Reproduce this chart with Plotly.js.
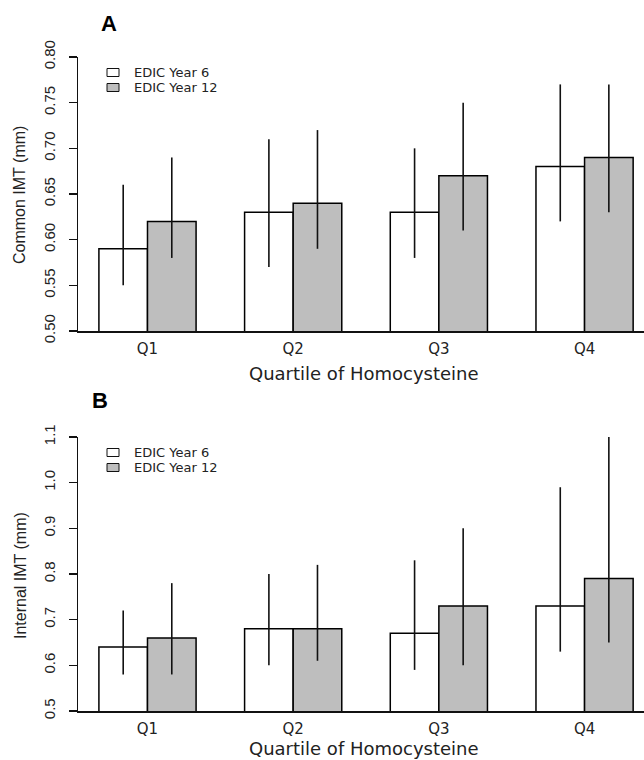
<!DOCTYPE html>
<html>
<head>
<meta charset="utf-8">
<script src="https://cdn.plot.ly/plotly-3.0.1.min.js"></script>
<style>html,body{margin:0;padding:0;background:#fff;}#chart{width:644px;height:760px;}</style>
</head>
<body>
<div id="chart"></div>
<script>
const quartiles = ['Q1', 'Q2', 'Q3', 'Q4'];
const seriesNames = ['EDIC Year 6', 'EDIC Year 12'];
const panelLabels = ['A', 'B'];
const xTitle = 'Quartile of Homocysteine';
const yTitles = ['Common IMT (mm)', 'Internal IMT (mm)'];

const commonY6   = [0.59, 0.63, 0.63, 0.68];
const commonY6Lo = [0.55, 0.57, 0.58, 0.62];
const commonY6Hi = [0.66, 0.71, 0.70, 0.77];
const commonY12   = [0.62, 0.64, 0.67, 0.69];
const commonY12Lo = [0.58, 0.59, 0.61, 0.63];
const commonY12Hi = [0.69, 0.72, 0.75, 0.77];

const internalY6   = [0.64, 0.68, 0.67, 0.73];
const internalY6Lo = [0.58, 0.60, 0.59, 0.63];
const internalY6Hi = [0.72, 0.80, 0.83, 0.99];
const internalY12   = [0.66, 0.68, 0.73, 0.79];
const internalY12Lo = [0.58, 0.61, 0.60, 0.65];
const internalY12Hi = [0.78, 0.82, 0.90, 1.10];

const commonTicks = [0.50, 0.55, 0.60, 0.65, 0.70, 0.75, 0.80];
const internalTicks = [0.5, 0.6, 0.7, 0.8, 0.9, 1.0, 1.1];

const W = 644, H = 760, ML = 78, MR = 0;
const px = x => (x - ML) / (W - ML - MR);
const py = y => 1 - y / H;

const fills = ['#ffffff', '#bebebe'];

function barTrace(name, y, lo, hi, fill, xa, ya) {
  return {
    type: 'bar', name: name, x: quartiles, y: y,
    xaxis: xa, yaxis: ya, showlegend: false,
    marker: {color: fill, line: {color: '#000', width: 1.5}},
    error_y: {
      type: 'data', symmetric: false,
      array: hi.map((v, i) => v - y[i]),
      arrayminus: lo.map((v, i) => y[i] - v),
      width: 0, thickness: 1.6, color: '#111'
    },
    hoverinfo: 'skip'
  };
}

const data = [
  barTrace(seriesNames[0], commonY6, commonY6Lo, commonY6Hi, fills[0], 'x', 'y'),
  barTrace(seriesNames[1], commonY12, commonY12Lo, commonY12Hi, fills[1], 'x', 'y'),
  barTrace(seriesNames[0], internalY6, internalY6Lo, internalY6Hi, fills[0], 'x2', 'y2'),
  barTrace(seriesNames[1], internalY12, internalY12Lo, internalY12Hi, fills[1], 'x2', 'y2')
];

const tickFontY = {family: 'Liberation Sans, Arial, sans-serif', size: 15, color: '#222'};
const tickFontX = {family: 'DejaVu Sans, sans-serif', size: 15, color: '#222'};

function xAxis(anchor) {
  return {
    domain: [0, 1], anchor: anchor, type: 'category',
    range: [-0.477, 3.408], showline: true, linecolor: '#111', linewidth: 1.5,
    ticks: '', showgrid: false, zeroline: false, tickfont: tickFontX,
    ticklabelstandoff: 3, fixedrange: true
  };
}
function yAxis(anchor, domain, range, ticks, fmt) {
  return {
    domain: domain, anchor: anchor, range: range,
    tickmode: 'array', tickvals: ticks, ticktext: ticks.map(v => v.toFixed(fmt)),
    tickangle: -90, ticks: 'outside', ticklen: 8, tickwidth: 1.5, tickcolor: '#111',
    showline: true, linecolor: '#111', linewidth: 1.5, showgrid: false, zeroline: false,
    tickfont: tickFontY, ticklabelstandoff: 8, fixedrange: true
  };
}

const annotations = [];
const shapes = [];
const panelTop = [57, 437];
const panelBottom = [331, 711];
const labelPos = [[109, 23], [100, 400]];
const xTitleY = [373, 748];

for (let p = 0; p < 2; p++) {
  annotations.push({
    xref: 'paper', yref: 'paper', x: px(labelPos[p][0]), y: py(labelPos[p][1]),
    xanchor: 'center', yanchor: 'middle', showarrow: false,
    text: '<b>' + panelLabels[p] + '</b>',
    font: {family: 'Liberation Sans, Arial, sans-serif', size: 22, color: '#000'}
  });
  annotations.push({
    xref: 'paper', yref: 'paper', x: px(20), y: py((panelTop[p] + panelBottom[p]) / 2 + 1),
    xanchor: 'center', yanchor: 'middle', showarrow: false, textangle: -90,
    text: yTitles[p],
    font: {family: 'Liberation Sans, Arial, sans-serif', size: 16, color: '#222'}
  });
  annotations.push({
    xref: 'paper', yref: 'paper', x: px(364), y: py(xTitleY[p]),
    xanchor: 'center', yanchor: 'middle', showarrow: false,
    text: xTitle,
    font: {family: 'DejaVu Sans, sans-serif', size: 18, color: '#222'}
  });
  for (let s = 0; s < 2; s++) {
    const cy = panelTop[p] + 15.5 + s * 15;
    shapes.push({
      type: 'rect', xref: 'paper', yref: 'paper',
      x0: px(107), x1: px(119), y0: py(cy - 4), y1: py(cy + 4),
      fillcolor: fills[s], line: {color: '#111', width: 1}
    });
    annotations.push({
      xref: 'paper', yref: 'paper', x: px(133), y: py(cy),
      xanchor: 'left', yanchor: 'middle', showarrow: false,
      text: seriesNames[s], borderpad: 0,
      font: {family: 'DejaVu Sans, sans-serif', size: 13, color: '#222'}
    });
  }
}

const layout = {
  width: W, height: H,
  margin: {l: ML, r: MR, t: 0, b: 0, pad: 0},
  paper_bgcolor: '#fff', plot_bgcolor: '#fff',
  barmode: 'group', bargap: 0.333, bargroupgap: 0,
  showlegend: false,
  xaxis: xAxis('y'),
  xaxis2: xAxis('y2'),
  yaxis: yAxis('x', [py(panelBottom[0]), py(panelTop[0])], [0.5, 0.8], commonTicks, 2),
  yaxis2: yAxis('x2', [py(panelBottom[1]), py(panelTop[1])], [0.5, 1.1], internalTicks, 1),
  annotations: annotations,
  shapes: shapes
};

Plotly.newPlot('chart', data, layout, {displayModeBar: false, staticPlot: true});
</script>
</body>
</html>
